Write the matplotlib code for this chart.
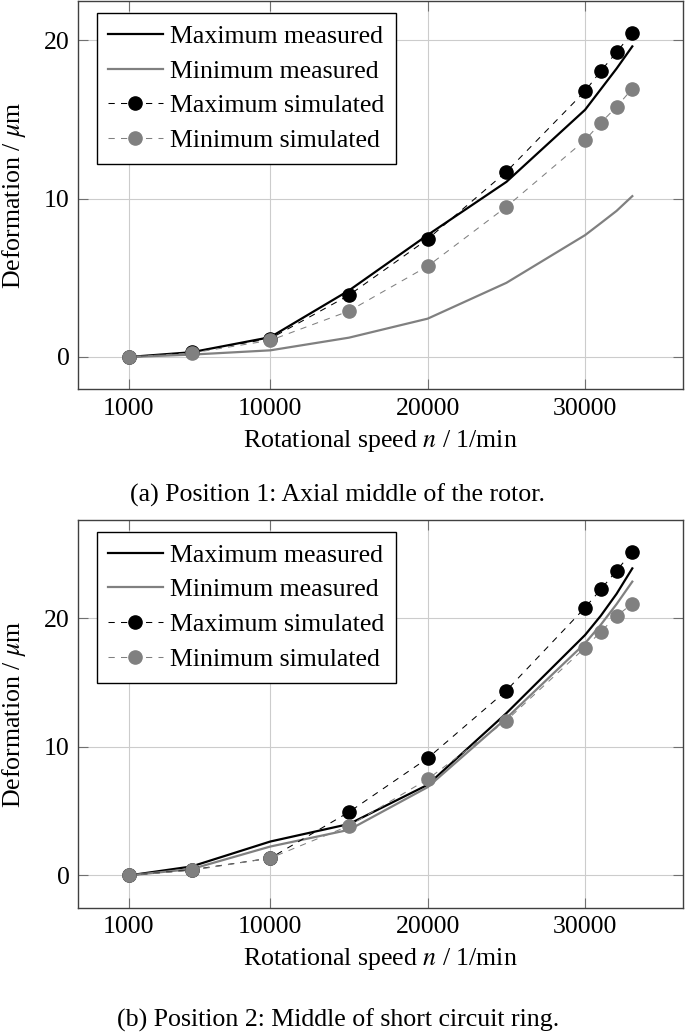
import matplotlib
matplotlib.use("Agg")
import matplotlib.pyplot as plt

# rotational speed in 1/min
speed = [1000, 5000, 10000, 15000, 20000, 25000, 30000, 31000, 32000, 33000]
xtick_values = [1000, 10000, 20000, 30000]

# (a) Position 1: axial middle of the rotor, deformation in um
max_meas_a = [0, 0.3, 1.25, 4.2, 7.7, 11.05, 15.6, 16.9, 18.2, 19.6]
min_meas_a = [0, 0.15, 0.42, 1.22, 2.42, 4.68, 7.69, 8.45, 9.22, 10.15]
max_sim_a = [0, 0.32, 1.16, 3.9, 7.44, 11.69, 16.78, 18.05, 19.23, 20.47]
min_sim_a = [0, 0.25, 1.05, 2.9, 5.73, 9.48, 13.69, 14.78, 15.79, 16.93]

# (b) Position 2: middle of short circuit ring
max_meas_b = [0, 0.7, 2.64, 4.0, 7.05, 12.62, 18.7, 20.2, 21.9, 23.88]
min_meas_b = [0, 0.5, 2.25, 3.55, 6.87, 12.23, 18.06, 19.5, 21.1, 22.85]
max_sim_b = [0, 0.44, 1.35, 4.93, 9.12, 14.38, 20.83, 22.25, 23.7, 25.18]
min_sim_b = [0, 0.4, 1.35, 3.86, 7.49, 12.05, 17.72, 18.96, 20.18, 21.13]

plt.rcParams['font.family'] = ['Liberation Serif', 'DejaVu Serif']
plt.rcParams['mathtext.fontset'] = 'stix'
plt.rcParams['font.size'] = 18.6

GRAY = '#808080'


def draw_panel(ax, max_meas, min_meas, max_sim, min_sim, ylim):
    ax.plot(speed, max_meas, color='black', lw=1.6, label='Maximum measured')
    ax.plot(speed, min_meas, color=GRAY, lw=1.6, label='Minimum measured')
    ax.plot(speed, max_sim, color='black', lw=0.75, ls=(0, (6, 6)),
            marker='o', ms=9.5, label='Maximum simulated')
    ax.plot(speed, min_sim, color=GRAY, lw=0.75, ls=(0, (6, 6)),
            marker='o', ms=9.5, label='Minimum simulated')

    ax.set_xlim(-2200, 36200)
    ax.set_ylim(*ylim)
    ax.set_xticks(xtick_values)
    ax.set_xticklabels([str(v) for v in xtick_values])
    ax.set_yticks([0, 10, 20])
    ax.grid(True, color='#cccccc', lw=0.8)
    ax.set_axisbelow(True)
    ax.tick_params(direction='in', length=7.5, width=0.8, color='#707070',
                   top=True, right=True, pad=6)
    for sp in ax.spines.values():
        sp.set_color('#404040')
        sp.set_linewidth(1.0)

    ax.set_xlabel('Rotational speed $n$ / 1/min', labelpad=6)
    ax.set_ylabel(r'Deformation / $\mu$m', labelpad=12)

    leg = ax.legend(loc='upper left', bbox_to_anchor=(0.0304, 0.969),
                    borderaxespad=0, fancybox=False, framealpha=1,
                    edgecolor='black', handlelength=2.1, labelspacing=0.45,
                    borderpad=0.45, handletextpad=0.3)
    leg.get_frame().set_linewidth(1.0)


fig = plt.figure(figsize=(6.85, 10.32), dpi=100)
ax_a = fig.add_axes([0.1143, 0.6226, 0.8823, 0.3762])
ax_b = fig.add_axes([0.1143, 0.1204, 0.8823, 0.3757])

draw_panel(ax_a, max_meas_a, min_meas_a, max_sim_a, min_sim_a, (-2.05, 22.45))
draw_panel(ax_b, max_meas_b, min_meas_b, max_sim_b, min_sim_b, (-2.51, 27.64))

fig.text(0.493, 1 - 495 / 1032, '(a) Position 1: Axial middle of the rotor.',
         ha='center', va='center')
fig.text(0.493, 1 - 1020 / 1032, '(b) Position 2: Middle of short circuit ring.',
         ha='center', va='center')

fig.savefig('out.png', dpi=100)
